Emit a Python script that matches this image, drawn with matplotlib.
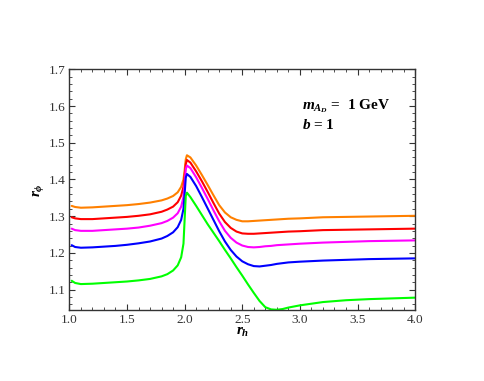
import matplotlib
matplotlib.use("Agg")
import matplotlib.pyplot as plt
from matplotlib.ticker import MultipleLocator

# =========================
# DATA
# =========================
r_h = [1.02, 1.05, 1.1, 1.2, 1.3, 1.4, 1.5, 1.6, 1.7, 1.8, 1.85, 1.9, 1.94, 1.97,
       1.99, 2.0, 2.01, 2.02, 2.05, 2.1, 2.15, 2.2, 2.25, 2.3, 2.35, 2.4, 2.45,
       2.5, 2.55, 2.6, 2.65, 2.7, 2.75, 2.8, 2.85, 2.9, 3.0, 3.2, 3.4, 3.6, 3.8, 4.0]

r_orange = [1.328, 1.325, 1.323, 1.324, 1.326, 1.328, 1.330, 1.333, 1.337, 1.343, 1.348,
            1.355, 1.365, 1.380, 1.400, 1.425, 1.455, 1.466, 1.460, 1.438, 1.412, 1.385,
            1.357, 1.330, 1.310, 1.297, 1.290, 1.286, 1.286, 1.287, 1.288, 1.289, 1.290,
            1.291, 1.292, 1.293, 1.294, 1.297, 1.298, 1.299, 1.300, 1.301]
r_red = [1.297, 1.294, 1.292, 1.292, 1.294, 1.296, 1.298, 1.301, 1.305, 1.312, 1.318,
         1.326, 1.338, 1.356, 1.380, 1.410, 1.442, 1.453, 1.446, 1.422, 1.395, 1.366,
         1.336, 1.307, 1.284, 1.268, 1.258, 1.253, 1.252, 1.252, 1.253, 1.254, 1.255,
         1.256, 1.257, 1.258, 1.259, 1.262, 1.263, 1.264, 1.265, 1.266]
r_magenta = [1.266, 1.262, 1.260, 1.260, 1.262, 1.264, 1.266, 1.269, 1.274, 1.281, 1.287,
             1.296, 1.308, 1.326, 1.352, 1.390, 1.428, 1.438, 1.431, 1.406, 1.377, 1.347,
             1.316, 1.286, 1.260, 1.241, 1.228, 1.220, 1.216, 1.215, 1.216, 1.218, 1.219,
             1.221, 1.222, 1.223, 1.225, 1.228, 1.230, 1.232, 1.233, 1.234]
r_blue = [1.221, 1.216, 1.214, 1.215, 1.217, 1.219, 1.222, 1.226, 1.231, 1.239, 1.246,
          1.256, 1.270, 1.290, 1.320, 1.360, 1.405, 1.415, 1.407, 1.382, 1.352, 1.321,
          1.290, 1.259, 1.231, 1.208, 1.190, 1.177, 1.169, 1.164, 1.163, 1.165, 1.167,
          1.170, 1.172, 1.174, 1.176, 1.179, 1.181, 1.183, 1.184, 1.185]
r_green = [1.124, 1.118, 1.115, 1.116, 1.118, 1.120, 1.122, 1.125, 1.129, 1.136, 1.142,
           1.152, 1.166, 1.188, 1.225, 1.290, 1.355, 1.364, 1.352, 1.328, 1.303, 1.278,
           1.255, 1.232, 1.208, 1.185, 1.161, 1.138, 1.114, 1.091, 1.069, 1.052, 1.046,
           1.045, 1.047, 1.051, 1.057, 1.066, 1.071, 1.074, 1.076, 1.078]

series = [r_orange, r_red, r_magenta, r_blue, r_green]
colors = ["#ff8000", "#ff0000", "#ff00ff", "#0000ff", "#00ff00"]

# =========================
# STYLE
# =========================
plt.rcParams["font.family"] = ["Liberation Serif", "DejaVu Serif"]
plt.rcParams["mathtext.fontset"] = "custom"
plt.rcParams["mathtext.rm"] = "Liberation Serif:bold"
plt.rcParams["mathtext.it"] = "Liberation Serif:bold:italic"
plt.rcParams["mathtext.bf"] = "Liberation Serif:bold"

fig = plt.figure(figsize=(4.85, 3.81), dpi=100)
ax = fig.add_axes([0.143, 0.186, 0.713, 0.632])

for ys, c in zip(series, colors):
    ax.plot(r_h, ys, color=c, lw=1.5, solid_joinstyle="round", solid_capstyle="round")

ax.set_xlim(1.0, 4.0)
ax.set_ylim(1.044, 1.7)

ax.xaxis.set_major_locator(MultipleLocator(0.5))
ax.xaxis.set_minor_locator(MultipleLocator(0.1))
ax.yaxis.set_major_locator(MultipleLocator(0.1))
ax.yaxis.set_minor_locator(MultipleLocator(0.02))
ax.xaxis.set_major_formatter(plt.FormatStrFormatter("%.1f"))
ax.yaxis.set_major_formatter(plt.FormatStrFormatter("%.1f"))

ax.tick_params(which="both", direction="in", top=True, right=True,
               labelsize=9.5, colors="#333333", pad=3)
ax.tick_params(which="major", length=4, width=0.8)
ax.tick_params(which="minor", length=2, width=0.6)
for s in ax.spines.values():
    s.set_linewidth(1.0)
    s.set_color("#333333")

ax.set_xlabel(r"$r_h$", fontsize=11, labelpad=0)
ax.set_ylabel(r"$r_\phi$", fontsize=11, labelpad=2)

ax.text(0.672, 0.835, r"$m_{A_D}$ =  1 GeV", transform=ax.transAxes,
        fontsize=11, fontweight="bold", va="baseline")
ax.text(0.672, 0.752, r"$b$ = 1", transform=ax.transAxes,
        fontsize=11, fontweight="bold", va="baseline")

fig.savefig("out.png", dpi=100)
